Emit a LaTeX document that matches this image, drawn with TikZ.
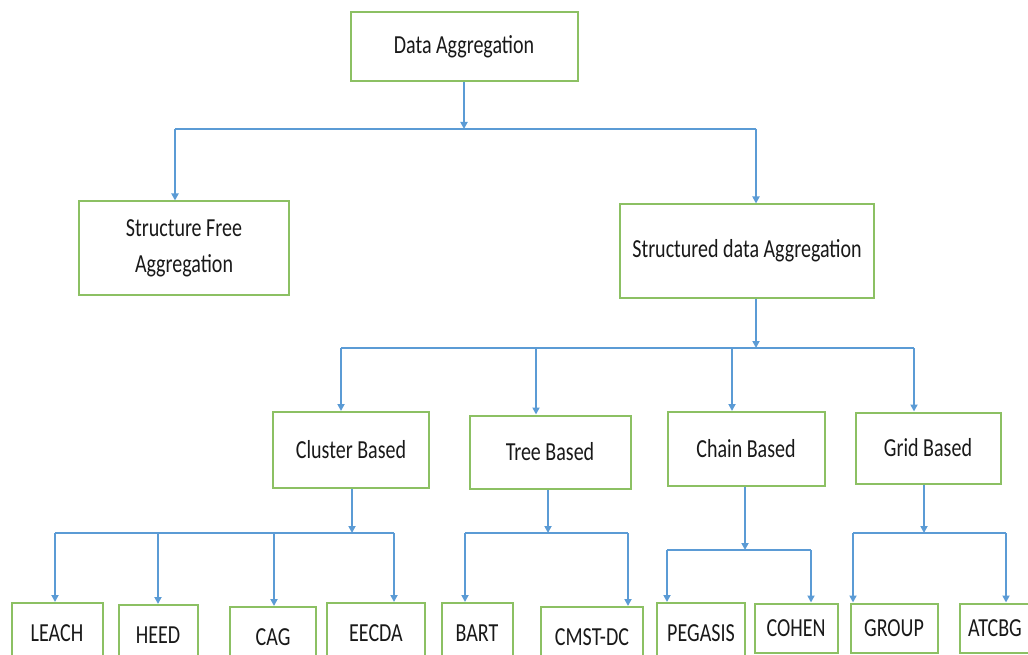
\documentclass[tikz,border=0pt]{standalone}
\usepackage{fontspec}
\setmainfont[FakeStretch=0.77]{Carlito}
\usetikzlibrary{arrows.meta,positioning,calc}

\definecolor{boxgreen}{RGB}{140,192,99}
\definecolor{linkblue}{RGB}{91,155,213}

\tikzset{
  box/.style={draw=boxgreen, line width=2pt, fill=white, inner sep=0pt,
    align=center, text=black!90, font=\fontsize{26}{36}\selectfont},
  wire/.style={draw=linkblue, line width=1.8pt},
  link/.style={wire, -{Triangle[length=7pt,width=7pt]}}
}

\begin{document}
\begin{tikzpicture}[x=1pt, y=-1pt]
  \clip (0,0) rectangle (1028,655);

  % top levels
  \node[box, minimum width=227, minimum height=69] (data)   at (464,47)  {Data Aggregation};
  \node[box, minimum width=210, minimum height=93] (free)   at (184,248) {Structure Free\\Aggregation};
  \node[box, minimum width=254, minimum height=93] (struct) at (747,251) {Structured data Aggregation};

  % families of structured aggregation
  \node[box, minimum width=156, minimum height=76] (cluster) at (351,450) {Cluster Based};
  \node[box, minimum width=161, minimum height=73] (tree)    at (550,452) {Tree Based};
  \node[box, minimum width=157, minimum height=74] (chain)   at (746,449) {Chain Based};
  \node[box, minimum width=145, minimum height=71] (grid)    at (928,448) {Grid Based};

  % protocols
  \node[box, minimum width=91,  minimum height=60] (leach)   at (57,633)  {LEACH};
  \node[box, minimum width=79,  minimum height=60] (heed)    at (158,635) {HEED};
  \node[box, minimum width=86,  minimum height=60] (cag)     at (273,637) {CAG};
  \node[box, minimum width=98,  minimum height=60] (eecda)   at (376,633) {EECDA};
  \node[box, minimum width=71,  minimum height=60] (bart)    at (477,633) {BART};
  \node[box, minimum width=102, minimum height=60] (cmst)    at (592,637) {CMST-DC};
  \node[box, minimum width=88,  minimum height=60] (pegasis) at (701,633) {PEGASIS};
  \node[box, minimum width=83,  minimum height=49] (cohen)   at (796,628) {COHEN};
  \node[box, minimum width=87,  minimum height=49] (group)   at (894,628) {GROUP};
  \node[box, minimum width=70,  minimum height=49] (atcbg)   at (995,628) {ATCBG};

  % bus lines
  \coordinate (bus0) at (464,129);
  \coordinate (bus1) at (756,348);
  \coordinate (bus2) at (352,533);
  \coordinate (bus3) at (548,533);
  \coordinate (bus4) at (745,550);
  \coordinate (bus5) at (924,533);

  % data aggregation
  \draw[link] (data) -- (bus0);
  \draw[wire] ([xshift=-9pt]free.north |- bus0) -- ([xshift=9pt]struct.north |- bus0);
  \draw[link] ([xshift=-9pt]free.north |- bus0) -- ([xshift=-9pt]free.north);
  \draw[link] ([xshift=9pt]struct.north |- bus0) -- ([xshift=9pt]struct.north);

  % structured
  \draw[link] ([xshift=9pt]struct.south) -- (bus1);
  \draw[wire] ([xshift=-10pt]cluster.north |- bus1) -- ([xshift=-14pt]grid.north |- bus1);
  \draw[link] ([xshift=-10pt]cluster.north |- bus1) -- ([xshift=-10pt]cluster.north);
  \draw[link] ([xshift=-14pt]tree.north |- bus1) -- ([xshift=-14pt]tree.north);
  \draw[link] ([xshift=-14pt]chain.north |- bus1) -- ([xshift=-14pt]chain.north);
  \draw[link] ([xshift=-14pt]grid.north |- bus1) -- ([xshift=-14pt]grid.north);

  % cluster based
  \draw[link] ([xshift=1pt]cluster.south) -- (bus2);
  \draw[wire] ([xshift=-2pt]leach.north |- bus2) -- ([xshift=18pt]eecda.north |- bus2);
  \draw[link] ([xshift=-2pt]leach.north |- bus2) -- ([xshift=-2pt]leach.north);
  \draw[link] (heed.north |- bus2) -- (heed.north);
  \draw[link] ([xshift=1pt]cag.north |- bus2) -- ([xshift=1pt]cag.north);
  \draw[link] ([xshift=18pt]eecda.north |- bus2) -- ([xshift=18pt]eecda.north);

  % tree based
  \draw[link] ([xshift=-2pt]tree.south) -- (bus3);
  \draw[wire] ([xshift=-12pt]bart.north |- bus3) -- ([xshift=36pt]cmst.north |- bus3);
  \draw[link] ([xshift=-12pt]bart.north |- bus3) -- ([xshift=-12pt]bart.north);
  \draw[link] ([xshift=36pt]cmst.north |- bus3) -- ([xshift=36pt]cmst.north);

  % chain based
  \draw[link] ([xshift=-1pt]chain.south) -- (bus4);
  \draw[wire] ([xshift=-34pt]pegasis.north |- bus4) -- ([xshift=15pt]cohen.north |- bus4);
  \draw[link] ([xshift=-34pt]pegasis.north |- bus4) -- ([xshift=-34pt]pegasis.north);
  \draw[link] ([xshift=15pt]cohen.north |- bus4) -- ([xshift=15pt]cohen.north);

  % grid based
  \draw[link] ([xshift=-4pt]grid.south) -- (bus5);
  \draw[wire] ([xshift=-41pt]group.north |- bus5) -- ([xshift=11pt]atcbg.north |- bus5);
  \draw[link] ([xshift=-41pt]group.north |- bus5) -- ([xshift=-41pt]group.north);
  \draw[link] ([xshift=11pt]atcbg.north |- bus5) -- ([xshift=11pt]atcbg.north);
\end{tikzpicture}
\end{document}
